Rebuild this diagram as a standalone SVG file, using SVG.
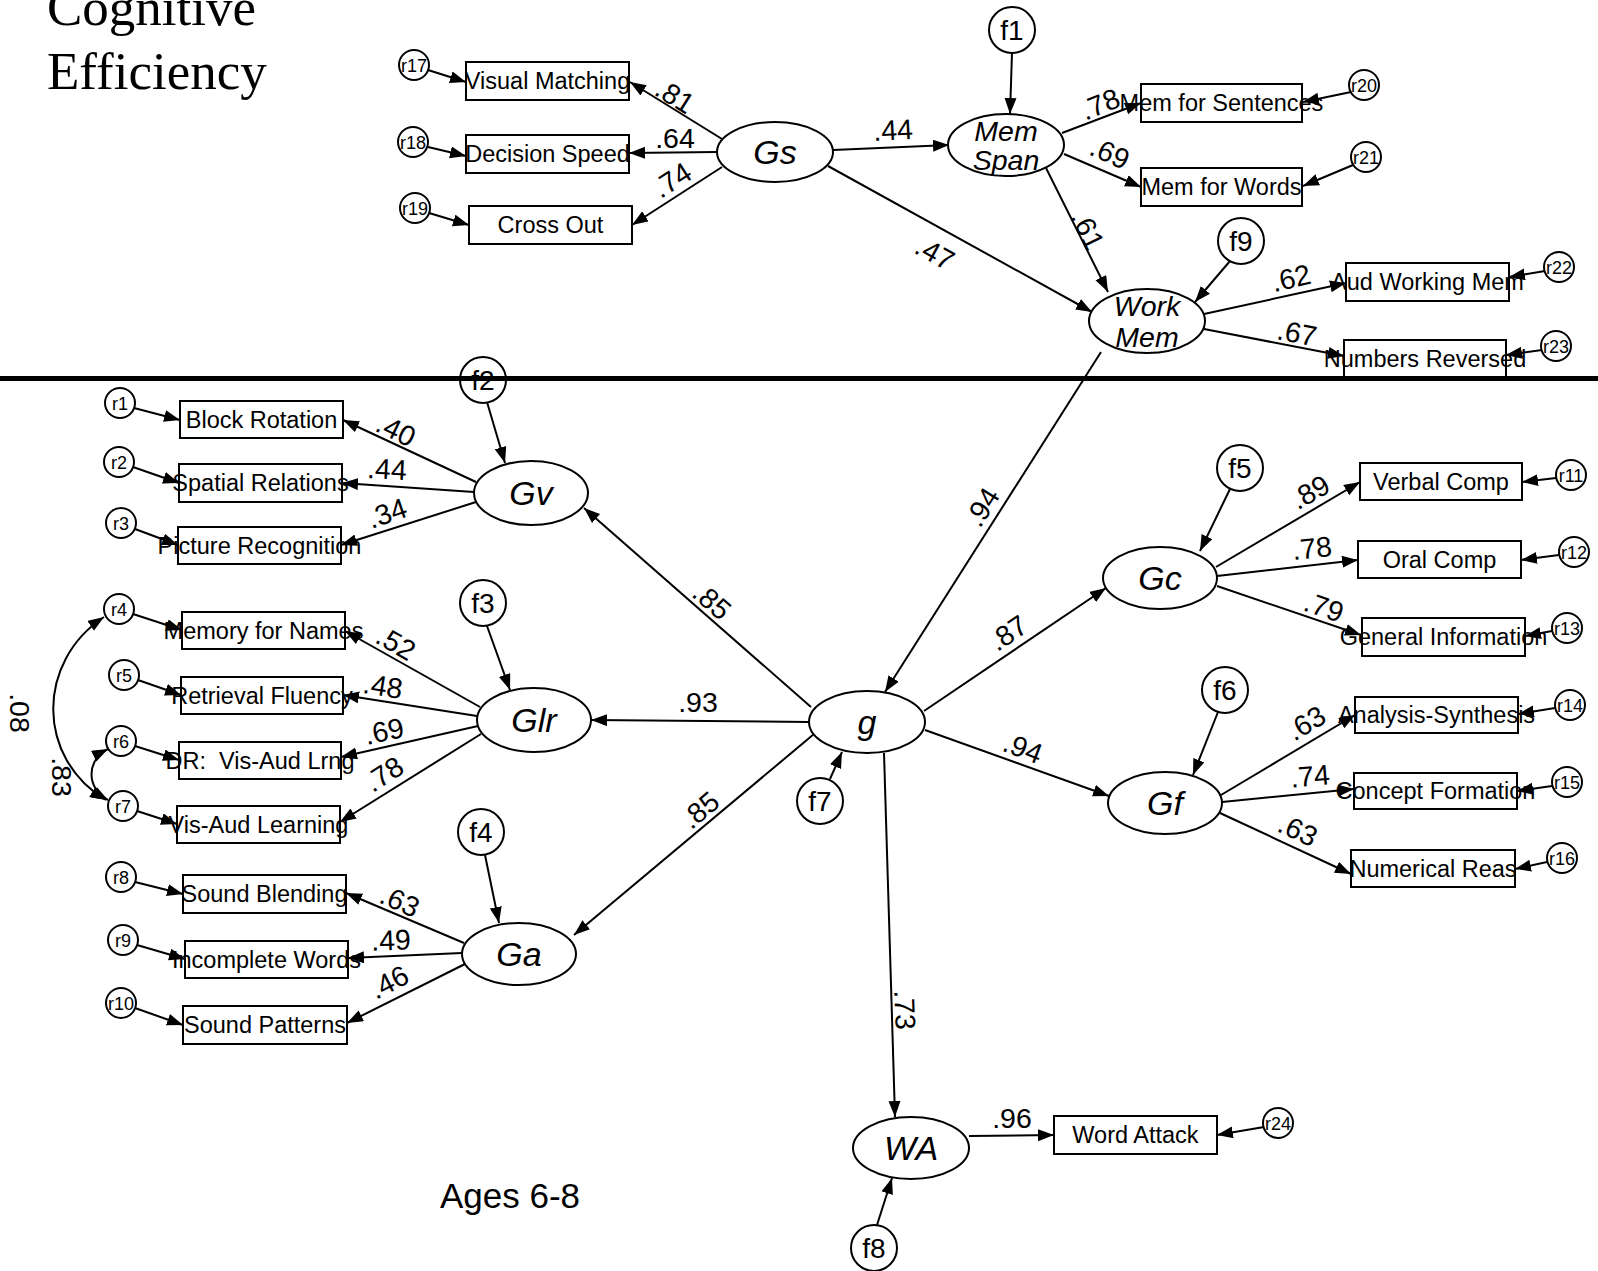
<svg xmlns="http://www.w3.org/2000/svg" width="1598" height="1271" viewBox="0 0 1598 1271">
<defs>
<marker id="ah" markerUnits="userSpaceOnUse" markerWidth="18" markerHeight="14" refX="16" refY="6" orient="auto"><path d="M0,0 L16,6 L0,12 Z" fill="#000"/></marker>
<marker id="ahs" markerUnits="userSpaceOnUse" markerWidth="18" markerHeight="14" refX="16" refY="6" orient="auto-start-reverse"><path d="M0,0 L16,6 L0,12 Z" fill="#000"/></marker>
<style>
.box{fill:#fff;stroke:#000;stroke-width:2}
.lat{fill:#fff;stroke:#000;stroke-width:2}
.err{fill:#fff;stroke:#000;stroke-width:2}
.bt{font-family:"Liberation Sans",Arial,sans-serif;font-size:23.5px;text-anchor:middle;fill:#000}
.lt{font-family:"Liberation Sans",Arial,sans-serif;font-size:34px;font-style:italic;text-anchor:middle;fill:#000}
.lt2{font-family:"Liberation Sans",Arial,sans-serif;font-size:28.5px;font-style:italic;text-anchor:middle;fill:#000}
.ft{font-family:"Liberation Sans",Arial,sans-serif;font-size:28px;text-anchor:middle;fill:#000}
.rt{font-family:"Liberation Sans",Arial,sans-serif;font-size:18px;text-anchor:middle;fill:#000}
.lbl{font-family:"Liberation Sans",Arial,sans-serif;font-size:28.5px;text-anchor:middle;fill:#000}
.c line,.c path{stroke:#000;stroke-width:2;fill:none;marker-end:url(#ah)}
.c path.cov{marker-start:url(#ahs);marker-end:url(#ahs)}
</style>
</defs>
<rect width="1598" height="1271" fill="#fff"/>
<text x="47" y="25" font-family="Liberation Serif,Times New Roman,serif" font-size="53">Cognitive</text>
<text x="47" y="89" font-family="Liberation Serif,Times New Roman,serif" font-size="53">Efficiency</text>
<text x="440" y="1208" font-family="Liberation Sans,Arial,sans-serif" font-size="35">Ages 6-8</text>

<g class="c" id="connectors">
<line x1="722" y1="139" x2="630" y2="82"/>
<line x1="717" y1="152" x2="629" y2="153"/>
<line x1="722" y1="167" x2="632" y2="225"/>
<line x1="428" y1="70" x2="466" y2="82"/>
<line x1="428" y1="147" x2="466" y2="156"/>
<line x1="429" y1="213" x2="469" y2="225"/>
<line x1="833" y1="150" x2="949" y2="145"/>
<line x1="828" y1="166" x2="1092" y2="312"/>
<line x1="1012" y1="53" x2="1010" y2="114"/>
<line x1="1062" y1="133" x2="1141" y2="103"/>
<line x1="1064" y1="154" x2="1141" y2="187"/>
<line x1="1046" y1="168" x2="1108" y2="292"/>
<line x1="1351" y1="92" x2="1303" y2="102"/>
<line x1="1353" y1="165" x2="1303" y2="186"/>
<line x1="1230" y1="261" x2="1195" y2="302"/>
<line x1="1204" y1="314" x2="1346" y2="283"/>
<line x1="1204" y1="329" x2="1344" y2="356"/>
<line x1="1545" y1="271" x2="1509" y2="277"/>
<line x1="1542" y1="350" x2="1506" y2="355"/>
<line x1="1101" y1="352" x2="885" y2="692"/>
<line x1="487" y1="402" x2="505" y2="463"/>
<line x1="476" y1="482" x2="343" y2="420"/>
<line x1="474" y1="492" x2="342" y2="483"/>
<line x1="476" y1="502" x2="341" y2="545"/>
<line x1="134" y1="408" x2="180" y2="420"/>
<line x1="133" y1="467" x2="179" y2="483"/>
<line x1="135" y1="529" x2="178" y2="545"/>
<line x1="487" y1="626" x2="510" y2="690"/>
<line x1="480" y1="707" x2="345" y2="631"/>
<line x1="477" y1="716" x2="343" y2="695"/>
<line x1="478" y1="726" x2="341" y2="757"/>
<line x1="481" y1="734" x2="340" y2="822"/>
<line x1="133" y1="614" x2="182" y2="630"/>
<line x1="138" y1="680" x2="181" y2="695"/>
<line x1="135" y1="746" x2="179" y2="760"/>
<line x1="137" y1="811" x2="177" y2="824"/>
<path class="cov" d="M104,617 C36,662 36,758 106,800"/>
<path class="cov" d="M108,749 C86,760 86,788 108,800"/>
<line x1="485" y1="855" x2="499" y2="923"/>
<line x1="464" y1="943" x2="346" y2="893"/>
<line x1="462" y1="953" x2="348" y2="958"/>
<line x1="465" y1="964" x2="347" y2="1023"/>
<line x1="135" y1="882" x2="183" y2="894"/>
<line x1="137" y1="945" x2="185" y2="959"/>
<line x1="135" y1="1008" x2="183" y2="1025"/>
<line x1="811" y1="707" x2="584" y2="508"/>
<line x1="809" y1="722" x2="591" y2="720"/>
<line x1="814" y1="734" x2="574" y2="935"/>
<line x1="830" y1="779" x2="842" y2="752"/>
<line x1="924" y1="711" x2="1106" y2="588"/>
<line x1="925" y1="730" x2="1109" y2="796"/>
<line x1="884" y1="753" x2="895" y2="1117"/>
<line x1="1230" y1="489" x2="1200" y2="551"/>
<line x1="1216" y1="567" x2="1360" y2="482"/>
<line x1="1217" y1="576" x2="1358" y2="560"/>
<line x1="1217" y1="586" x2="1361" y2="635"/>
<line x1="1556" y1="478" x2="1522" y2="482"/>
<line x1="1559" y1="555" x2="1521" y2="560"/>
<line x1="1552" y1="631" x2="1525" y2="636"/>
<line x1="1218" y1="712" x2="1193" y2="775"/>
<line x1="1221" y1="795" x2="1355" y2="715"/>
<line x1="1222" y1="802" x2="1354" y2="789"/>
<line x1="1220" y1="813" x2="1351" y2="874"/>
<line x1="1555" y1="708" x2="1518" y2="714"/>
<line x1="1552" y1="786" x2="1517" y2="791"/>
<line x1="1547" y1="862" x2="1515" y2="869"/>
<line x1="969" y1="1136" x2="1054" y2="1135"/>
<line x1="1264" y1="1127" x2="1217" y2="1135"/>
<line x1="877" y1="1225" x2="892" y2="1178"/>
</g>

<g id="labels">
<text class="lbl" x="675" y="106" transform="rotate(32 675 96)">.81</text>
<text class="lbl" x="675" y="148">.64</text>
<text class="lbl" x="672" y="190" transform="rotate(-33 672 180)">.74</text>
<text class="lbl" x="893" y="140" transform="rotate(-3 893 130)">.44</text>
<text class="lbl" x="935" y="263" transform="rotate(29 935 253)">.47</text>
<text class="lbl" x="1100" y="114" transform="rotate(-22 1100 104)">.78</text>
<text class="lbl" x="1110" y="163" transform="rotate(24 1110 153)">.69</text>
<text class="lbl" x="1088" y="240" transform="rotate(64 1088 230)">.61</text>
<text class="lbl" x="1291" y="288" transform="rotate(-13 1291 278)">.62</text>
<text class="lbl" x="1297" y="343" transform="rotate(11 1297 333)">.67</text>
<text class="lbl" x="982" y="517" transform="rotate(-58 982 507)">.94</text>
<text class="lbl" x="396" y="440" transform="rotate(26 396 430)">.40</text>
<text class="lbl" x="387" y="479" transform="rotate(3 387 469)">.44</text>
<text class="lbl" x="387" y="523" transform="rotate(-19 387 513)">.34</text>
<text class="lbl" x="396" y="653" transform="rotate(30 396 643)">.52</text>
<text class="lbl" x="383" y="696" transform="rotate(9 383 686)">.48</text>
<text class="lbl" x="384" y="741" transform="rotate(-12 384 731)">.69</text>
<text class="lbl" x="384" y="784" transform="rotate(-33 384 774)">.78</text>
<text class="lbl" x="20" y="723" transform="rotate(90 20 713)">.08</text>
<text class="lbl" x="62" y="787" transform="rotate(90 62 777)">.83</text>
<text class="lbl" x="400" y="911" transform="rotate(24 400 901)">.63</text>
<text class="lbl" x="391" y="950" transform="rotate(-2 391 940)">.49</text>
<text class="lbl" x="389" y="992" transform="rotate(-27 389 982)">.46</text>
<text class="lbl" x="712" y="611" transform="rotate(41 712 601)">.85</text>
<text class="lbl" x="698" y="712">.93</text>
<text class="lbl" x="700" y="820" transform="rotate(-40 700 810)">.85</text>
<text class="lbl" x="1008" y="643" transform="rotate(-34 1008 633)">.87</text>
<text class="lbl" x="1023" y="758" transform="rotate(21 1023 748)">.94</text>
<text class="lbl" x="905" y="1020" transform="rotate(88 905 1010)">.73</text>
<text class="lbl" x="1012" y="1128">.96</text>
<text class="lbl" x="1310" y="502" transform="rotate(-30 1310 492)">.89</text>
<text class="lbl" x="1312" y="558" transform="rotate(-6 1312 548)">.78</text>
<text class="lbl" x="1324" y="617" transform="rotate(19 1324 607)">.79</text>
<text class="lbl" x="1306" y="733" transform="rotate(-31 1306 723)">.63</text>
<text class="lbl" x="1310" y="786" transform="rotate(-5 1310 776)">.74</text>
<text class="lbl" x="1298" y="840" transform="rotate(25 1298 830)">.63</text>
</g>

<!-- observed variables -->
<g id="VisualMatching"><rect class="box" x="466" y="62" width="163" height="38"/><text class="bt" x="547.5" y="89">Visual Matching</text></g>
<g id="DecisionSpeed"><rect class="box" x="466" y="135" width="163" height="38"/><text class="bt" x="547.5" y="162">Decision Speed</text></g>
<g id="CrossOut"><rect class="box" x="469" y="206" width="163" height="38"/><text class="bt" x="550.5" y="233">Cross Out</text></g>
<g id="MemSentences"><rect class="box" x="1141" y="84" width="161" height="38"/><text class="bt" x="1221.5" y="111">Mem for Sentences</text></g>
<g id="MemWords"><rect class="box" x="1141" y="168" width="161" height="38"/><text class="bt" x="1221.5" y="195">Mem for Words</text></g>
<g id="AudWorkingMem"><rect class="box" x="1346" y="263" width="163" height="38"/><text class="bt" x="1427.5" y="290">Aud Working Mem</text></g>
<g id="NumbersReversed"><rect class="box" x="1344" y="340" width="162" height="38"/><text class="bt" x="1425" y="367">Numbers Reversed</text></g>
<g id="BlockRotation"><rect class="box" x="180" y="401" width="163" height="37"/><text class="bt" x="261.5" y="428">Block Rotation</text></g>
<g id="SpatialRelations"><rect class="box" x="179" y="464" width="163" height="38"/><text class="bt" x="260.5" y="491">Spatial Relations</text></g>
<g id="PictureRecognition"><rect class="box" x="178" y="527" width="163" height="37"/><text class="bt" x="259.5" y="554">Picture Recognition</text></g>
<g id="MemoryNames"><rect class="box" x="182" y="612" width="163" height="37"/><text class="bt" x="263.5" y="639">Memory for Names</text></g>
<g id="RetrievalFluency"><rect class="box" x="181" y="677" width="162" height="37"/><text class="bt" x="262" y="704">Retrieval Fluency</text></g>
<g id="DRVisAud"><rect class="box" x="179" y="742" width="162" height="37"/><text class="bt" x="260" y="769" xml:space="preserve">DR:  Vis-Aud Lrng</text></g>
<g id="VisAudLearning"><rect class="box" x="177" y="806" width="163" height="37"/><text class="bt" x="258.5" y="833">Vis-Aud Learning</text></g>
<g id="SoundBlending"><rect class="box" x="183" y="875" width="163" height="38"/><text class="bt" x="264.5" y="902">Sound Blending</text></g>
<g id="IncompleteWords"><rect class="box" x="185" y="941" width="163" height="37"/><text class="bt" x="266.5" y="968">Incomplete Words</text></g>
<g id="SoundPatterns"><rect class="box" x="183" y="1006" width="164" height="38"/><text class="bt" x="265" y="1033">Sound Patterns</text></g>
<g id="VerbalComp"><rect class="box" x="1360" y="463" width="162" height="37"/><text class="bt" x="1441" y="490">Verbal Comp</text></g>
<g id="OralComp"><rect class="box" x="1358" y="541" width="163" height="37"/><text class="bt" x="1439.5" y="568">Oral Comp</text></g>
<g id="GeneralInformation"><rect class="box" x="1362" y="618" width="163" height="38"/><text class="bt" x="1443.5" y="645">General Information</text></g>
<g id="AnalysisSynthesis"><rect class="box" x="1355" y="697" width="163" height="36"/><text class="bt" x="1436.5" y="723">Analysis-Synthesis</text></g>
<g id="ConceptFormation"><rect class="box" x="1354" y="773" width="163" height="36"/><text class="bt" x="1435.5" y="799">Concept Formation</text></g>
<g id="NumericalReas"><rect class="box" x="1351" y="850" width="164" height="37"/><text class="bt" x="1433" y="877">Numerical Reas</text></g>
<g id="WordAttack"><rect class="box" x="1054" y="1116" width="163" height="38"/><text class="bt" x="1135.5" y="1143">Word Attack</text></g>

<!-- latent variables -->
<g id="Gs"><ellipse class="lat" cx="775" cy="152" rx="58" ry="30"/><text class="lt" x="775" y="164">Gs</text></g>
<g id="MemSpan"><ellipse class="lat" cx="1006" cy="145" rx="58" ry="31"/><text class="lt2" x="1006" y="141">Mem</text><text class="lt2" x="1006" y="170">Span</text></g>
<g id="WorkMem"><ellipse class="lat" cx="1147" cy="321" rx="58" ry="32"/><text class="lt2" x="1147" y="316">Work</text><text class="lt2" x="1147" y="347">Mem</text></g>
<g id="Gv"><ellipse class="lat" cx="531" cy="493" rx="57" ry="32"/><text class="lt" x="531" y="505">Gv</text></g>
<g id="Glr"><ellipse class="lat" cx="534" cy="720" rx="57" ry="32"/><text class="lt" x="534" y="732">Glr</text></g>
<g id="Ga"><ellipse class="lat" cx="519" cy="954" rx="57" ry="31"/><text class="lt" x="519" y="966">Ga</text></g>
<g id="g"><ellipse class="lat" cx="867" cy="722" rx="58" ry="31"/><text class="lt" x="867" y="734">g</text></g>
<g id="Gc"><ellipse class="lat" cx="1160" cy="578" rx="57" ry="31"/><text class="lt" x="1160" y="590">Gc</text></g>
<g id="Gf"><ellipse class="lat" cx="1165" cy="803" rx="57" ry="31"/><text class="lt" x="1165" y="815">Gf</text></g>
<g id="WA"><ellipse class="lat" cx="911" cy="1148" rx="58" ry="31"/><text class="lt" x="911" y="1160">WA</text></g>

<!-- disturbances -->
<g id="f1"><circle class="err" cx="1012" cy="30" r="23"/><text class="ft" x="1012" y="40">f1</text></g>
<g id="f9"><circle class="err" cx="1241" cy="241" r="23"/><text class="ft" x="1241" y="251">f9</text></g>
<g id="f2"><circle class="err" cx="483" cy="380" r="23"/><text class="ft" x="483" y="390">f2</text></g>
<g id="f3"><circle class="err" cx="483" cy="603" r="23"/><text class="ft" x="483" y="613">f3</text></g>
<g id="f4"><circle class="err" cx="481" cy="832" r="23"/><text class="ft" x="481" y="842">f4</text></g>
<g id="f5"><circle class="err" cx="1240" cy="468" r="23"/><text class="ft" x="1240" y="478">f5</text></g>
<g id="f6"><circle class="err" cx="1225" cy="690" r="23"/><text class="ft" x="1225" y="700">f6</text></g>
<g id="f7"><circle class="err" cx="820" cy="801" r="23"/><text class="ft" x="820" y="811">f7</text></g>
<g id="f8"><circle class="err" cx="874" cy="1248" r="23"/><text class="ft" x="874" y="1258">f8</text></g>

<!-- residuals -->
<g id="r17"><circle class="err" cx="414" cy="65" r="15"/><text class="rt" x="414" y="71.5">r17</text></g>
<g id="r18"><circle class="err" cx="413" cy="142" r="15"/><text class="rt" x="413" y="148.5">r18</text></g>
<g id="r19"><circle class="err" cx="415" cy="208" r="15"/><text class="rt" x="415" y="214.5">r19</text></g>
<g id="r20"><circle class="err" cx="1364" cy="85" r="15"/><text class="rt" x="1364" y="91.5">r20</text></g>
<g id="r21"><circle class="err" cx="1366" cy="157" r="15"/><text class="rt" x="1366" y="163.5">r21</text></g>
<g id="r22"><circle class="err" cx="1559" cy="267" r="15"/><text class="rt" x="1559" y="273.5">r22</text></g>
<g id="r23"><circle class="err" cx="1556" cy="346" r="15"/><text class="rt" x="1556" y="352.5">r23</text></g>
<g id="r1"><circle class="err" cx="120" cy="403" r="15"/><text class="rt" x="120" y="409.5">r1</text></g>
<g id="r2"><circle class="err" cx="119" cy="462" r="15"/><text class="rt" x="119" y="468.5">r2</text></g>
<g id="r3"><circle class="err" cx="121" cy="523" r="15"/><text class="rt" x="121" y="529.5">r3</text></g>
<g id="r4"><circle class="err" cx="119" cy="609" r="15"/><text class="rt" x="119" y="615.5">r4</text></g>
<g id="r5"><circle class="err" cx="124" cy="675" r="15"/><text class="rt" x="124" y="681.5">r5</text></g>
<g id="r6"><circle class="err" cx="121" cy="741" r="15"/><text class="rt" x="121" y="747.5">r6</text></g>
<g id="r7"><circle class="err" cx="123" cy="806" r="15"/><text class="rt" x="123" y="812.5">r7</text></g>
<g id="r8"><circle class="err" cx="121" cy="877" r="15"/><text class="rt" x="121" y="883.5">r8</text></g>
<g id="r9"><circle class="err" cx="123" cy="940" r="15"/><text class="rt" x="123" y="946.5">r9</text></g>
<g id="r10"><circle class="err" cx="121" cy="1003" r="15"/><text class="rt" x="121" y="1009.5">r10</text></g>
<g id="r11"><circle class="err" cx="1571" cy="475" r="15"/><text class="rt" x="1571" y="481.5">r11</text></g>
<g id="r12"><circle class="err" cx="1574" cy="552" r="15"/><text class="rt" x="1574" y="558.5">r12</text></g>
<g id="r13"><circle class="err" cx="1567" cy="628" r="15"/><text class="rt" x="1567" y="634.5">r13</text></g>
<g id="r14"><circle class="err" cx="1570" cy="705" r="15"/><text class="rt" x="1570" y="711.5">r14</text></g>
<g id="r15"><circle class="err" cx="1567" cy="782" r="15"/><text class="rt" x="1567" y="788.5">r15</text></g>
<g id="r16"><circle class="err" cx="1562" cy="858" r="15"/><text class="rt" x="1562" y="864.5">r16</text></g>
<g id="r24"><circle class="err" cx="1278" cy="1123" r="15"/><text class="rt" x="1278" y="1129.5">r24</text></g>

<line x1="0" y1="378.5" x2="1598" y2="378.5" stroke="#000" stroke-width="5"/>
</svg>
